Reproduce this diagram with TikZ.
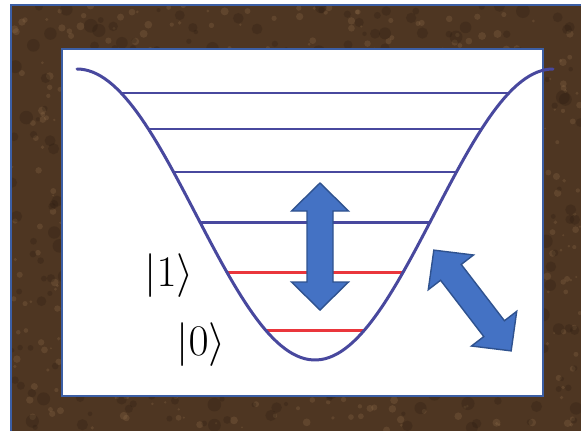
\documentclass[tikz,border=0pt]{standalone}
\usepackage{xcolor}
\usepackage{tikz}
\usetikzlibrary{calc}

\definecolor{wellblue}{RGB}{72,72,158}
\definecolor{levelred}{RGB}{234,54,60}
\definecolor{arrowfill}{RGB}{68,114,196}
\definecolor{arrowline}{RGB}{47,82,143}
\definecolor{frameblue}{RGB}{60,95,165}
\definecolor{marble}{RGB}{78,54,34}
\definecolor{marblelight}{RGB}{150,116,80}
\definecolor{marbledark}{RGB}{40,26,15}

\newcommand{\dblarrow}{(-63.5,0) -- (-35.5,28.5) -- (-35.5,13) -- (35.5,13) -- (35.5,28.5) -- (63.5,0) -- (35.5,-28.5) -- (35.5,-13) -- (-35.5,-13) -- (-35.5,-28.5) -- cycle}

\begin{document}
\begin{tikzpicture}[x=0.02cm, y=-0.02cm]
    % Define styles
    \tikzstyle{well} = [draw=wellblue, line width=1.7pt, line cap=round]
    \tikzstyle{blockarrow} = [draw=arrowline, fill=arrowfill, line width=0.8pt, line join=miter]
    \tikzstyle{ket} = [font=\fontsize{30}{36}\selectfont, inner sep=0pt]

    \useasboundingbox (0,0) rectangle (581,430);

    % Marble frame
    \fill[marble] (11,5) rectangle (590,440);
    \begin{scope}
        \clip (11,5) rectangle (581,430);
        \pgfmathsetseed{42}
        \foreach \i in {1,...,600} {
            \pgfmathsetmacro{\px}{11+570*rnd}
            \pgfmathsetmacro{\py}{5+425*rnd}
            \pgfmathsetmacro{\pr}{1+3*rnd}
            \fill[marblelight, opacity=0.25] (\px,\py) circle[radius=\pr];
        }
        \foreach \i in {1,...,400} {
            \pgfmathsetmacro{\px}{11+570*rnd}
            \pgfmathsetmacro{\py}{5+425*rnd}
            \pgfmathsetmacro{\pr}{2+5*rnd}
            \fill[marbledark, opacity=0.25] (\px,\py) circle[radius=\pr];
        }
    \end{scope}
    \draw[frameblue, line width=1.2pt] (11,5) rectangle (590,440);

    % White panel
    \node[draw=frameblue, fill=white, line width=1.4pt, minimum width=9.62cm, minimum height=6.94cm, inner sep=0pt] (panel) at (302.5,222.5) {};

    % Energy levels
    \foreach \lev/\col in {93/wellblue, 129/wellblue, 172/wellblue, 222/wellblue, 272/levelred, 330/levelred} {
        \pgfmathsetmacro{\hw}{acos((\lev-69)/145.5-1)/180*238}
        \draw[\col, line width=1.7pt] (315-\hw,\lev) -- (315+\hw,\lev);
    }

    % Potential well
    \draw[well] plot[domain=77:553, samples=120] (\x, {69+145.5*(1+cos((\x-315)/238*180))});

    % Labels
    \node[ket] (ketone) at (169,276) {$|1\rangle$};
    \node[ket] (ketzero) at (201,345) {$|0\rangle$};

    % Arrows
    \begin{scope}[shift={(320,246.5)}, rotate=90]
        \draw[blockarrow] \dblarrow;
    \end{scope}
    \begin{scope}[shift={(472.5,300.5)}, rotate=-52.5]
        \draw[blockarrow] \dblarrow;
    \end{scope}

\end{tikzpicture}
\end{document}
